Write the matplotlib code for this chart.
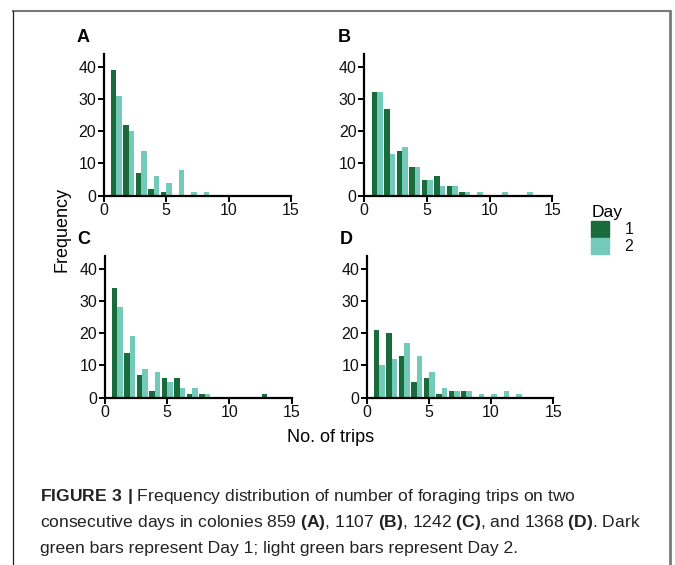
import matplotlib.pyplot as plt
import numpy as np
from matplotlib.lines import Line2D
from matplotlib.patches import Patch

plt.rcParams['font.family'] = ['Liberation Sans', 'DejaVu Sans']
plt.rcParams['mathtext.fontset'] = 'custom'
plt.rcParams['mathtext.rm'] = 'Liberation Sans'
plt.rcParams['mathtext.bf'] = 'Liberation Sans:bold'

trips = np.arange(1, 14)

# frequency per number of trips (1..13), day 1 and day 2
A_day1 = [39, 22, 7, 2, 1, 0, 0, 0, 0, 0, 0, 0, 0]
A_day2 = [31, 20, 14, 6, 4, 8, 1, 1, 0, 0, 0, 0, 0]
B_day1 = [32, 27, 14, 9, 5, 6, 3, 1, 0, 0, 0, 0, 0]
B_day2 = [32, 13, 15, 9, 5, 3, 3, 1, 1, 0, 1, 0, 1]
C_day1 = [34, 14, 7, 2, 6, 6, 1, 1, 0, 0, 0, 0, 1]
C_day2 = [28, 19, 9, 8, 5, 3, 3, 1, 0, 0, 0, 0, 0]
D_day1 = [21, 20, 13, 5, 6, 1, 2, 2, 0, 0, 0, 0, 0]
D_day2 = [10, 12, 17, 13, 8, 3, 2, 2, 1, 1, 2, 1, 0]

panels = [("A", A_day1, A_day2), ("B", B_day1, B_day2),
          ("C", C_day1, C_day2), ("D", D_day1, D_day2)]

dark = '#196b3b'
light = '#74cab8'

W, H = 675, 565
fig = plt.figure(figsize=(W / 100, H / 100), dpi=100)

# axes boxes in pixels: left, x-axis y, right
boxes = [(103.7, 195.7, 291.0), (364.3, 195.7, 552.3),
         (104.7, 397.7, 291.7), (366.7, 397.7, 553.3)]
ax_h = 142.0

for (letter, d1, d2), (x0, yb, x1) in zip(panels, boxes):
    ax = fig.add_axes([x0 / W, 1 - yb / H, (x1 - x0) / W, ax_h / H])
    ax.bar(trips - 0.2, d1, width=0.44, color=dark)
    ax.bar(trips + 0.24, d2, width=0.44, color=light)
    ax.set_xlim(0, 15)
    ax.set_ylim(0, 44)
    ax.set_xticks([0, 5, 10, 15])
    ax.set_yticks([0, 10, 20, 30, 40])
    for s in ['top', 'right']:
        ax.spines[s].set_visible(False)
    for s in ['left', 'bottom']:
        ax.spines[s].set_linewidth(1.6)
    ax.tick_params(direction='out', length=4, width=1.4, labelsize=11.5,
                   pad=1.5, colors='black', labelcolor='#111111')
    fig.text((x0 - 27) / W, 1 - (yb - 158) / H, letter, fontsize=13,
             fontweight='bold', ha='left', va='center')

fig.text(62 / W, 1 - 229 / H, 'Frequency', rotation=90, fontsize=13,
         ha='center', va='center')
fig.text(331 / W, 1 - 438 / H, 'No. of trips', fontsize=13,
         ha='center', va='center')

# legend
fig.legend(handles=[Patch(color=dark, label='1'), Patch(color=light, label='2')],
           title='Day', loc='upper left', bbox_to_anchor=(588 / W, 1 - 202 / H),
           frameon=False, fontsize=11.5, title_fontsize=12.5,
           handlelength=1.1, handleheight=1.15, handletextpad=1.0,
           labelspacing=0.05, borderaxespad=0, borderpad=0.2)
for t in fig.legends[0].get_texts():
    t.set_color('#111111')
fig.legends[0]._legend_box.align = 'left'

# page border
fig.add_artist(Line2D([13 / W, 670 / W], [1 - 11 / H, 1 - 11 / H], color='#7a7a7a', lw=1.5))
fig.add_artist(Line2D([13 / W, 13 / W], [1 - 11 / H, 0], color='#222222', lw=0.9))
fig.add_artist(Line2D([670 / W, 670 / W], [1 - 11 / H, 0], color='#7a7a7a', lw=2))

cap_size = 12.6
fig.text(40 / W, 1 - 496 / H,
         r"$\bf{FIGURE\ 3\ |}$ Frequency distribution of number of foraging trips on two",
         fontsize=cap_size, ha='left', va='center', color='#222222')
fig.text(40 / W, 1 - 522 / H,
         r"consecutive days in colonies 859 $\bf{(A)}$, 1107 $\bf{(B)}$, 1242 $\bf{(C)}$, and 1368 $\bf{(D)}$. Dark",
         fontsize=cap_size, ha='left', va='center', color='#222222')
fig.text(40 / W, 1 - 548 / H,
         "green bars represent Day 1; light green bars represent Day 2.",
         fontsize=cap_size, ha='left', va='center', color='#222222')

fig.savefig('out.png', dpi=100)
